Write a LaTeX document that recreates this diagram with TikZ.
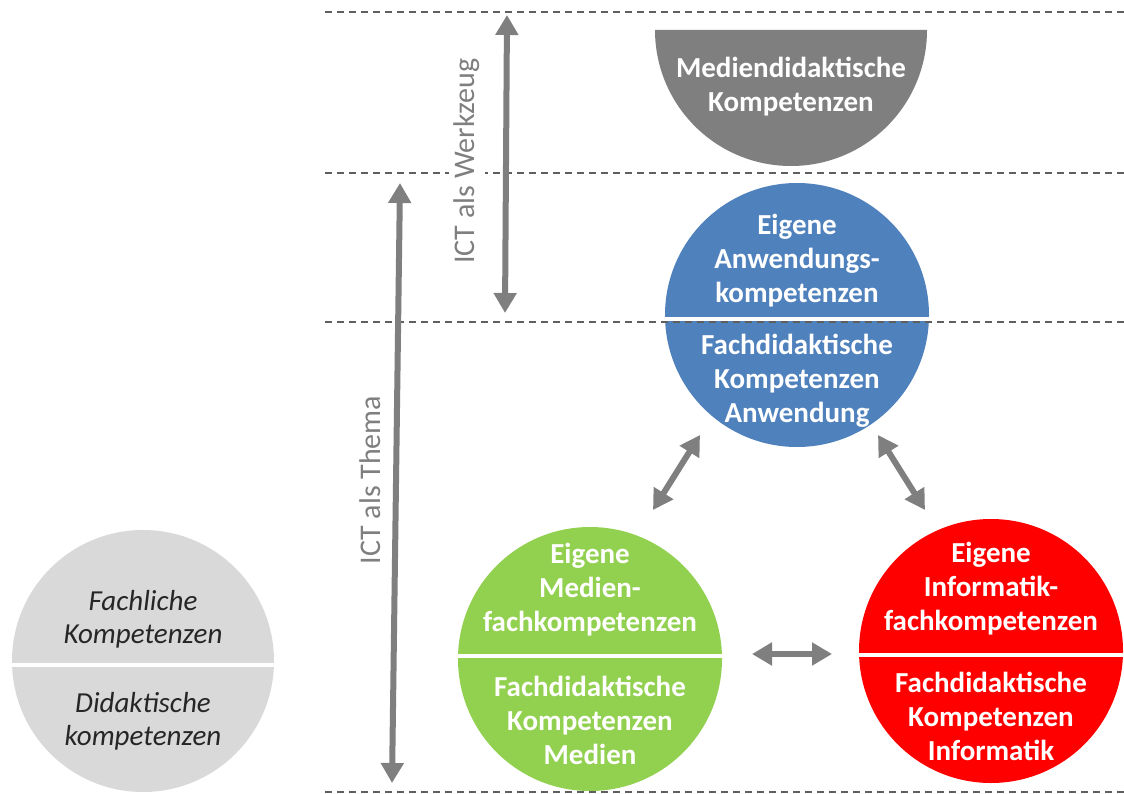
\documentclass[tikz,border=0pt]{standalone}
\usepackage{fontspec}
\setmainfont{Carlito}
\usetikzlibrary{arrows.meta}
\definecolor{cblue}{HTML}{4F81BD}
\definecolor{cgreen}{HTML}{92D050}
\definecolor{cred}{HTML}{FF0000}
\definecolor{cgray}{HTML}{7F7F7F}
\definecolor{clight}{HTML}{D9D9D9}
\definecolor{ctext}{HTML}{262626}
\definecolor{cdash}{HTML}{5F5F5F}
\begin{document}
\begin{tikzpicture}[x=1pt,y=-1pt,
  disc/.style={circle,inner sep=0pt,minimum size=264pt},
  sepline/.style={white,line width=4pt},
  guide/.style={cdash,line width=1.6pt,dash pattern=on 7pt off 5pt},
  dbl/.style={cgray,line width=6pt,{Triangle[width=22pt,length=20pt]}-{Triangle[width=22pt,length=20pt]}},
  lbl/.style={text=white,font=\fontsize{29}{34}\selectfont\bfseries,align=center,inner sep=0pt},
  ilbl/.style={text=ctext,font=\fontsize{29}{33}\selectfont\itshape,align=center,inner sep=0pt},
  side/.style={text=cgray,font=\fontsize{30}{34}\selectfont,rotate=90,inner sep=5pt}]
\useasboundingbox (0,0) rectangle (1124,794);
\fill[white] (0,0) rectangle (1124,794);

% circles
\node[disc,fill=cblue] (blue) at (797,315) {};
\node[disc,fill=cgreen] (green) at (590,659) {};
\node[disc,fill=cred] (red) at (991,651) {};
\node[disc,fill=clight,minimum size=262pt] (grey) at (143,661) {};

% half disc
\fill[cgray] (655,30) arc[start angle=180,end angle=0,radius=136] -- cycle;
\coordinate (half) at (791,30);

% separators
\draw[sepline] (blue.west |- 0,319) -- (blue.east |- 0,319);
\draw[sepline] (green.west |- 0,656) -- (green.east |- 0,656);
\draw[sepline] (red.west |- 0,655) -- (red.east |- 0,655);
\draw[sepline] (grey.west |- 0,665) -- (grey.east |- 0,665);

% texts
\node[lbl] (tmed) at (791,87) {Mediendidaktische\\Kompetenzen};
\node[lbl] (tb1) at (797,261) {Eigene\\Anwendungs-\\kompetenzen};
\node[lbl] (tb2) at (797,381) {Fachdidaktische\\Kompetenzen\\Anwendung};
\node[lbl] (tg1) at (590,590) {Eigene\\Medien-\\fachkompetenzen};
\node[lbl] (tg2) at (590,720) {Fachdidaktische\\Kompetenzen\\Medien};
\node[lbl] (tr1) at (991,589) {Eigene\\Informatik-\\fachkompetenzen};
\node[lbl] (tr2) at (991,716) {Fachdidaktische\\Kompetenzen\\Informatik};
\node[ilbl] (tl1) at (143,619) {Fachliche\\Kompetenzen};
\node[ilbl] (tl2) at (143,721) {Didaktische\\kompetenzen};

% dashed guides
\draw[guide] (325,12) -- (1124,12);
\draw[guide] (325,173) -- (1124,173);
\draw[guide] (325,322) -- (1124,322);
\draw[guide] (325,792) -- (1124,792);

% side labels
\node[side,fill=white] (werk) at (467,161) {ICT als Werkzeug};
\node[side] (thema) at (370,480) {ICT als Thema};

% arrows
\coordinate (wt) at (507,15);
\coordinate (wb) at (505,313);
\coordinate (tt) at (400,183);
\coordinate (tb) at (392,783);
\coordinate (bg1) at (700,435);
\coordinate (bg2) at (653,510);
\coordinate (br1) at (878,435);
\coordinate (br2) at (925,510);
\coordinate (gr1) at (752,654);
\coordinate (gr2) at (832,654);
\draw[dbl] (wt) -- (wb);
\draw[dbl] (tt) -- (tb);
\draw[dbl] (bg1) -- (bg2);
\draw[dbl] (br1) -- (br2);
\draw[dbl] (gr1) -- (gr2);
\end{tikzpicture}
\end{document}
